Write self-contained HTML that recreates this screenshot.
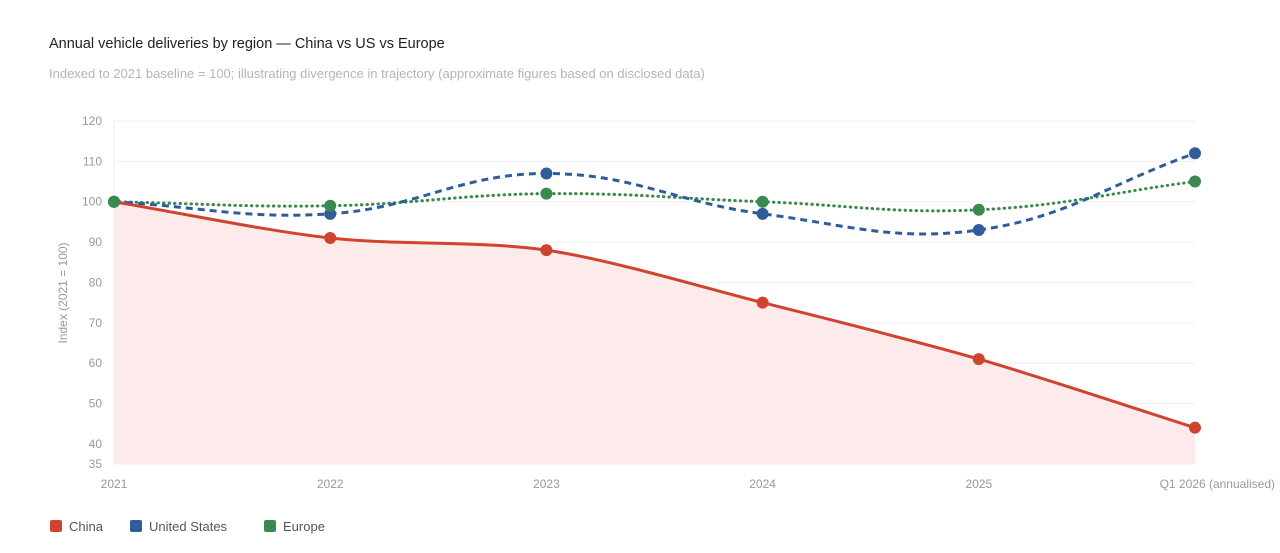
<!DOCTYPE html>
<html><head><meta charset="utf-8"><style>
body{margin:0;background:#fff;font-family:"Liberation Sans",sans-serif;}
svg{display:block}
</style></head><body>
<svg id="s" width="1280" height="553" xmlns="http://www.w3.org/2000/svg" font-family="Liberation Sans, sans-serif">
<text x="49" y="48" font-size="14.5" fill="#222">Annual vehicle deliveries by region — China vs US vs Europe</text>
<text x="49" y="78" font-size="13" fill="#b5b5b5">Indexed to 2021 baseline = 100; illustrating divergence in trajectory (approximate figures based on disclosed data)</text>
<g id="grid" stroke="#efefef" stroke-width="1"></g>
<g id="yl" font-size="12" fill="#999" text-anchor="end"></g>
<g id="xl" font-size="12" fill="#999" text-anchor="middle"></g>
<text transform="translate(67,293) rotate(-90)" font-size="12" fill="#999" text-anchor="middle">Index (2021 = 100)</text>
<g id="series"></g>
<g font-size="13" fill="#555">
<rect x="50" y="520" width="12" height="12" rx="2" fill="#d0432f"/><text x="69" y="531">China</text>
<rect x="130" y="520" width="12" height="12" rx="2" fill="#2f5d9a"/><text x="149" y="531">United States</text>
<rect x="264" y="520" width="12" height="12" rx="2" fill="#3a8a4f"/><text x="283" y="531">Europe</text>
</g>
</svg>
<script>
const NS="http://www.w3.org/2000/svg";
function el(p,t,a,txt){const e=document.createElementNS(NS,t);for(const k in a)e.setAttribute(k,a[k]);if(txt!=null)e.textContent=txt;p.appendChild(e);return e;}
const X0=114,X1=1195,Y=v=>464-(v-35)*4.035;
const xs=[0,1,2,3,4,5].map(i=>X0+i*(X1-X0)/5);
const grid=document.getElementById('grid'),yl=document.getElementById('yl'),xl=document.getElementById('xl');
[35,40,50,60,70,80,90,100,110,120].forEach(v=>{el(grid,'line',{x1:X0,x2:X1,y1:Y(v),y2:Y(v)});el(yl,'text',{x:102,y:Y(v)+4},v);});
el(grid,'line',{x1:X0,x2:X0,y1:Y(120),y2:Y(35)});
['2021','2022','2023','2024','2025','Q1 2026 (annualised)'].forEach((l,i)=>{let x=xs[i],a='middle';if(i==5){x=1275;a='end';}el(xl,'text',{x:x,y:488,'text-anchor':a},l);});
function path(vals,t){const p=vals.map((v,i)=>[xs[i],Y(v)]);const cps=p.map((c,i)=>{const pr=p[i-1]||c,nx=p[i+1]||c;const d1=Math.hypot(c[0]-pr[0],c[1]-pr[1]),d2=Math.hypot(nx[0]-c[0],nx[1]-c[1]);const s=d1+d2||1;const fa=t*d1/s,fb=t*d2/s;return[[c[0]-fa*(nx[0]-pr[0]),c[1]-fa*(nx[1]-pr[1])],[c[0]+fb*(nx[0]-pr[0]),c[1]+fb*(nx[1]-pr[1])]];});
let d='M'+p[0].join(',');for(let i=1;i<p.length;i++){d+=' C'+cps[i-1][1].join(',')+' '+cps[i][0].join(',')+' '+p[i].join(',');}return{d,p};}
const S=document.getElementById('series');
const ch=path([100,91,88,75,61,44],0.3);
el(S,'path',{d:ch.d+' L'+X1+','+Y(35)+' L'+X0+','+Y(35)+'Z',fill:'#fcebea'});
el(S,'path',{d:path([100,99,102,100,98,105],0.4).d,fill:'none',stroke:'#3a8a4f','stroke-width':3,'stroke-dasharray':'0.5 5','stroke-linecap':'round'});
el(S,'path',{d:path([100,97,107,97,93,112],0.4).d,fill:'none',stroke:'#2f5d9a','stroke-width':3,'stroke-dasharray':'7 5'});
el(S,'path',{d:ch.d,fill:'none',stroke:'#d0432f','stroke-width':3});
[[[100,91,88,75,61,44],'#d0432f'],[[100,97,107,97,93,112],'#2f5d9a'],[[100,99,102,100,98,105],'#3a8a4f']].forEach(([v,c])=>v.forEach((y,i)=>el(S,'circle',{cx:xs[i],cy:Y(y),r:6,fill:c})));
</script>
</body></html>
